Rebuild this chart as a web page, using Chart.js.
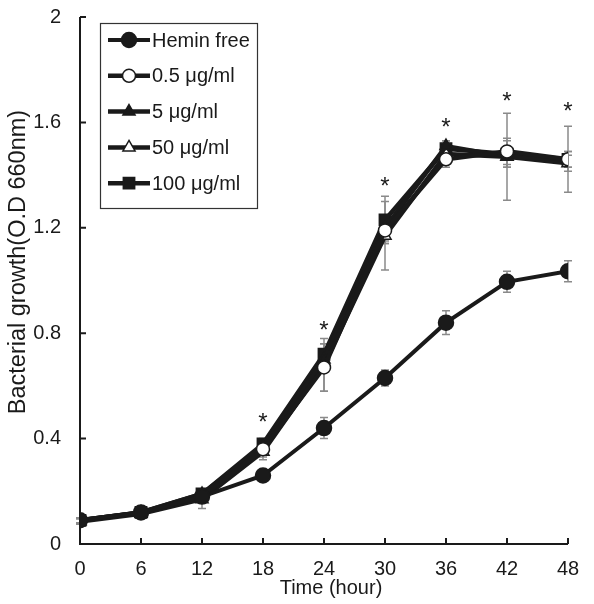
<!DOCTYPE html>
<html>
<head>
<meta charset="utf-8">
<script src="https://cdn.jsdelivr.net/npm/chart.js@4"></script>
<style>
    html, body { margin: 0; padding: 0; background: #fff; }
    #wrap { width: 594px; height: 604px; }
</style>
</head>
<body>
<div id="wrap"><canvas id="growthChart" width="594" height="604"></canvas></div>
<script>
const hours = [0, 6, 12, 18, 24, 30, 36, 42, 48]

const heminFree    = [0.09, 0.12, 0.18, 0.26, 0.44, 0.63, 0.84, 0.995, 1.035]
const heminFreeErr = [0.01, 0.01, 0.01, 0.01, 0.04, 0.03, 0.045, 0.04, 0.04]

const hemin05    = [0.09, 0.12, 0.18, 0.36, 0.67, 1.19, 1.46, 1.49, 1.46]
const hemin05Err = [0.01, 0.01, 0.02, 0.03, 0.09, 0.05, 0.03, 0.05, 0.125]

const hemin5    = [0.09, 0.12, 0.19, 0.37, 0.70, 1.20, 1.51, 1.47, 1.46]
const hemin5Err = [0.01, 0.01, 0.02, 0.02, 0.04, 0.05, 0.02, 0.04, 0.03]

const hemin50    = [0.085, 0.115, 0.17, 0.35, 0.68, 1.17, 1.48, 1.47, 1.445]
const hemin50Err = [0.01, 0.01, 0.035, 0.03, 0.10, 0.13, 0.03, 0.165, 0.03]

const hemin100    = [0.09, 0.12, 0.19, 0.38, 0.72, 1.23, 1.50, 1.48, 1.46]
const hemin100Err = [0.01, 0.01, 0.02, 0.02, 0.04, 0.09, 0.03, 0.05, 0.03]

// significance marks
const starHours  = [18, 24, 30, 36, 42, 48]
const starLevels = [0.48, 0.83, 1.375, 1.60, 1.70, 1.66]

const yTicks = [0, 0.4, 0.8, 1.2, 1.6, 2]

const xTitle = 'Time (hour)'
const yTitle = 'Bacterial growth(O.D 660nm)'

const FONT = 'Liberation Sans, Arial, sans-serif'
const INK  = '#1a1a1a'

function series(label, values, errors, style, fill, radius, width) {
    return {
        label,
        data: values.map((v, i) => ({ x: hours[i], y: v })),
        errors,
        borderColor: INK,
        borderWidth: width,
        pointStyle: style,
        pointRadius: radius,
        pointBorderWidth: 1.5,
        pointBorderColor: INK,
        pointBackgroundColor: fill,
        tension: 0
    }
}

const errorBars = {
    id: 'errorBars',
    beforeDatasetsDraw(chart) {
        const { ctx, scales: { x, y } } = chart
        ctx.save()
        ctx.strokeStyle = '#8a8a8a'
        ctx.lineWidth = 1.5
        chart.data.datasets.forEach(ds => {
            ds.data.forEach((p, i) => {
                const e  = ds.errors[i]
                const px = x.getPixelForValue(p.x)
                const top = y.getPixelForValue(p.y + e)
                const bot = y.getPixelForValue(p.y - e)
                ctx.beginPath()
                ctx.moveTo(px, top); ctx.lineTo(px, bot)
                ctx.moveTo(px - 4, top); ctx.lineTo(px + 4, top)
                ctx.moveTo(px - 4, bot); ctx.lineTo(px + 4, bot)
                ctx.stroke()
            })
        })
        ctx.restore()
    }
}

const axesAndMarks = {
    id: 'axesAndMarks',
    afterDraw(chart) {
        const { ctx, scales: { x, y }, chartArea: a } = chart
        ctx.save()
        ctx.strokeStyle = INK
        ctx.lineWidth = 2
        ctx.beginPath()
        ctx.moveTo(a.left, a.top); ctx.lineTo(a.left, a.bottom); ctx.lineTo(a.right, a.bottom)
        hours.forEach(h => {
            const px = x.getPixelForValue(h)
            ctx.moveTo(px, a.bottom); ctx.lineTo(px, a.bottom - 6)
        })
        yTicks.forEach(t => {
            const py = y.getPixelForValue(t)
            ctx.moveTo(a.left, py); ctx.lineTo(a.left + 6, py)
        })
        ctx.stroke()

        // axis titles
        ctx.fillStyle = INK
        ctx.textAlign = 'center'
        ctx.textBaseline = 'middle'
        ctx.font = '20px ' + FONT
        ctx.fillText(xTitle, 331, 588)
        ctx.save()
        ctx.translate(19, 262)
        ctx.rotate(-Math.PI / 2)
        ctx.font = '23.5px ' + FONT
        ctx.fillText(yTitle, 0, 0)
        ctx.restore()

        // asterisks
        ctx.font = '24px ' + FONT
        ctx.textBaseline = 'alphabetic'
        const m = ctx.measureText('*')
        const shift = (m.actualBoundingBoxAscent - m.actualBoundingBoxDescent) / 2
        starHours.forEach((h, i) => {
            ctx.fillText('*', x.getPixelForValue(h), y.getPixelForValue(starLevels[i]) + shift)
        })

        // legend box
        const bx = 100, by = 23, bw = 157, bh = 185
        ctx.lineWidth = 1.2
        ctx.strokeStyle = '#333'
        ctx.strokeRect(bx + 0.5, by + 0.5, bw, bh)
        ctx.font = '20px ' + FONT
        ctx.textAlign = 'left'
        ctx.textBaseline = 'middle'
        chart.data.datasets.forEach((ds, i) => {
            const ly = by + 17 + i * 35.8
            ctx.strokeStyle = INK
            ctx.lineWidth = ds.borderWidth
            ctx.beginPath()
            ctx.moveTo(bx + 8, ly); ctx.lineTo(bx + 50, ly)
            ctx.stroke()
            ctx.fillStyle = ds.pointBackgroundColor
            ctx.lineWidth = ds.pointBorderWidth
            ctx.strokeStyle = INK
            Chart.helpers.drawPoint(ctx, { pointStyle: ds.pointStyle, radius: ds.pointRadius, borderWidth: ds.pointBorderWidth }, bx + 29, ly)
            ctx.fillStyle = INK
            ctx.fillText(ds.label, bx + 52, ly + 1)
        })
        ctx.restore()
    }
}

new Chart(document.getElementById('growthChart'), {
    type: 'line',
    data: {
        datasets: [
            series('Hemin free', heminFree, heminFreeErr, 'circle', INK, 7.5, 4),
            series('0.5 μg/ml', hemin05, hemin05Err, 'circle', '#fff', 6.5, 4.5),
            series('5 μg/ml', hemin5, hemin5Err, 'triangle', INK, 7, 4.5),
            series('50 μg/ml', hemin50, hemin50Err, 'triangle', '#fff', 7, 4.5),
            series('100 μg/ml', hemin100, hemin100Err, 'rect', INK, 8, 4.5)
        ]
    },
    options: {
        responsive: false,
        animation: false,
        layout: { padding: { top: 17, right: 26, left: 0, bottom: 0 } },
        plugins: { legend: { display: false }, tooltip: { enabled: false } },
        scales: {
            x: {
                type: 'linear',
                min: 0, max: 48,
                afterFit: s => { s.height = 60; s.paddingLeft = 0; s.paddingRight = 0 },
                afterBuildTicks: s => { s.ticks = hours.map(v => ({ value: v })) },
                grid: { display: false, drawTicks: false },
                border: { display: false },
                ticks: { color: INK, font: { family: FONT, size: 20 }, padding: 13, maxRotation: 0 }
            },
            y: {
                min: 0, max: 2,
                afterFit: s => { s.width = 80; s.paddingTop = 0; s.paddingBottom = 0 },
                afterBuildTicks: s => { s.ticks = yTicks.map(v => ({ value: v })) },
                grid: { display: false, drawTicks: false },
                border: { display: false },
                ticks: { color: INK, font: { family: FONT, size: 20 }, padding: 19, callback: v => String(+v.toFixed(1)) }
            }
        }
    },
    plugins: [errorBars, axesAndMarks]
})
</script>
</body>
</html>
